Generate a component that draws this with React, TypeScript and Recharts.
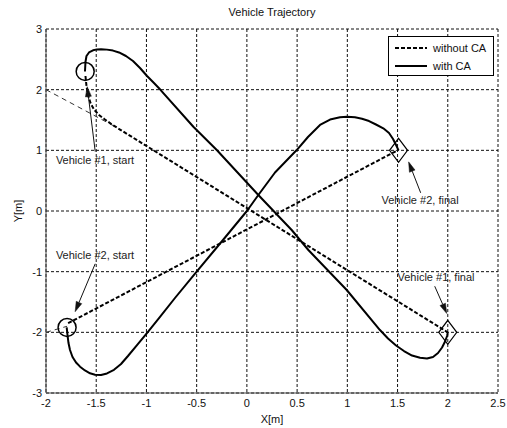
import React from 'react';
import {
  ComposedChart, Line, XAxis, YAxis, CartesianGrid, ReferenceDot, ReferenceLine, Legend, Label,
} from 'recharts';

// ---- Data ----
const xTicks = [-2, -1.5, -1, -0.5, 0, 0.5, 1, 1.5, 2, 2.5];
const yTicks = [-3, -2, -1, 0, 1, 2, 3];

// Vehicle #1 with collision avoidance (solid)
const v1WithCA = [
  [-1.612, 2.299], [-1.607, 2.456], [-1.597, 2.555], [-1.572, 2.613], [-1.532, 2.649],
  [-1.492, 2.664], [-1.452, 2.667], [-1.393, 2.660], [-1.333, 2.644], [-1.273, 2.613],
  [-1.204, 2.555], [-1.134, 2.472], [-1.064, 2.357], [-0.994, 2.225], [-0.925, 2.110],
  [-0.865, 2.006], [-0.533, 1.389], [-0.300, 1.005], [0.114, 0.264], [0.446, -0.313],
  [0.612, -0.643], [0.994, -1.302], [1.325, -1.962], [1.405, -2.102], [1.485, -2.217],
  [1.564, -2.308], [1.644, -2.382], [1.724, -2.420], [1.793, -2.431], [1.853, -2.406],
  [1.903, -2.341], [1.943, -2.250], [1.973, -2.151], [1.993, -2.060], [2.0, -2.0],
].map(([x, y]) => ({ x, y }));

// Vehicle #2 with collision avoidance (solid)
const v2WithCA = [
  [-1.794, -1.917], [-1.786, -2.044], [-1.776, -2.176], [-1.761, -2.291], [-1.736, -2.406],
  [-1.701, -2.497], [-1.661, -2.566], [-1.612, -2.629], [-1.562, -2.675], [-1.512, -2.698],
  [-1.452, -2.703], [-1.393, -2.678], [-1.323, -2.617], [-1.253, -2.522], [-1.184, -2.390],
  [-1.094, -2.209], [-0.997, -2.016], [-0.865, -1.747], [-0.716, -1.434], [-0.500, -1.000],
  [-0.238, -0.478], [0.0, 0.0], [0.114, 0.264], [0.280, 0.635], [0.496, 1.005],
  [0.608, 1.220], [0.728, 1.418], [0.828, 1.508], [0.927, 1.544], [0.997, 1.553],
  [1.076, 1.544], [1.146, 1.520], [1.216, 1.483], [1.285, 1.426], [1.358, 1.363],
  [1.415, 1.286], [1.455, 1.187], [1.485, 1.088], [1.51, 1.0],
].map(([x, y]) => ({ x, y }));

// Vehicle #1 without collision avoidance (dashed)
const v1WithoutCA = [
  [-1.607, 2.225], [-1.597, 2.060], [-1.582, 1.912], [-1.557, 1.780], [-1.522, 1.673],
  [-1.472, 1.582], [-1.413, 1.508], [-1.343, 1.426], [-1.263, 1.342], [2.0, -2.0],
].map(([x, y]) => ({ x, y }));

// Vehicle #2 without collision avoidance (dashed)
const v2WithoutCA = [
  [-1.78, -1.85], [1.5, 1.0],
].map(([x, y]) => ({ x, y }));

// thin lead-in lines
const v1Lead = [[-2.0, 2.0], [-1.3, 1.38]].map(([x, y]) => ({ x, y }));
const v2Lead = [[-2.0, -2.0], [-1.79, -1.9]].map(([x, y]) => ({ x, y }));

const starts = [
  { x: -1.61, y: 2.30 },
  { x: -1.79, y: -1.92 },
];
const finals = [
  { x: 1.51, y: 1.0 },
  { x: 2.0, y: -2.0 },
];

const annotations = [
  { text: 'Vehicle #1, start', x: -1.512, y: 0.84, from: { x: -1.51, y: 0.98 }, to: { x: -1.59, y: 2.05 } },
  { text: 'Vehicle #2, start', x: -1.512, y: -0.72, from: { x: -1.51, y: -0.87 }, to: { x: -1.71, y: -1.66 } },
  { text: 'Vehicle #2, final', x: 1.724, y: 0.18, from: { x: 1.73, y: 0.30 }, to: { x: 1.61, y: 0.81 } },
  { text: 'Vehicle #1, final', x: 1.883, y: -1.09, from: { x: 1.87, y: -1.24 }, to: { x: 1.99, y: -1.69 } },
];

const FONT = 'Arial, "Liberation Sans", Helvetica, sans-serif';

const arrowShape = (props: any) => {
  const { x1, y1, x2, y2 } = props;
  const ang = Math.atan2(y2 - y1, x2 - x1);
  const len = 10;
  const w = 3;
  const bx = x2 - len * Math.cos(ang);
  const by = y2 - len * Math.sin(ang);
  const p1x = bx + w * Math.sin(ang);
  const p1y = by - w * Math.cos(ang);
  const p2x = bx - w * Math.sin(ang);
  const p2y = by + w * Math.cos(ang);
  return (
    <g>
      <line x1={x1} y1={y1} x2={bx} y2={by} stroke="#111" strokeWidth={1} />
      <polygon points={`${x2},${y2} ${p1x},${p1y} ${p2x},${p2y}`} fill="#111" stroke="#111" strokeWidth={0.5} />
    </g>
  );
};

const diamondShape = (props: any) => {
  const { cx, cy } = props;
  const hw = 9;
  const hh = 12;
  return (
    <polygon
      points={`${cx},${cy - hh} ${cx + hw},${cy} ${cx},${cy + hh} ${cx - hw},${cy}`}
      fill="none"
      stroke="#000"
      strokeWidth={1.2}
    />
  );
};

const LegendBox = () => (
  <div
    style={{
      width: 106,
      height: 40,
      border: '1px solid #000',
      background: '#fff',
      boxSizing: 'border-box',
      fontFamily: FONT,
      fontSize: 11,
      color: '#111',
    }}
  >
    <svg width={104} height={38} style={{ display: 'block' }}>
      <line x1={6} y1={11} x2={38} y2={11} stroke="#000" strokeWidth={2} strokeDasharray="4 2" />
      <text x={44} y={15} fontFamily={FONT} fontSize={11} fill="#111">without CA</text>
      <line x1={6} y1={29} x2={38} y2={29} stroke="#000" strokeWidth={2} />
      <text x={44} y={33} fontFamily={FONT} fontSize={11} fill="#111">with CA</text>
    </svg>
  </div>
);

export default function App() {
  return (
    <div style={{ position: 'absolute', left: 0, top: 0, width: 507, height: 428, background: '#fff' }}>
      <ComposedChart width={507} height={428} margin={{ top: 29, right: 9, bottom: 15, left: 0 }}>
        <CartesianGrid stroke="#111" strokeDasharray="3 2" strokeWidth={1} />
        <XAxis
          type="number"
          dataKey="x"
          domain={[-2, 2.5]}
          ticks={xTicks}
          allowDataOverflow
          height={20}
          tickSize={0}
          tickMargin={6}
          axisLine={{ stroke: '#444', strokeWidth: 1 }}
          tick={{ fontFamily: FONT, fontSize: 11, fill: '#111' }}
        >
          <Label
            content={({ viewBox }: any) => (
              <text
                x={viewBox.x + viewBox.width / 2}
                y={viewBox.y + 30}
                textAnchor="middle"
                fontFamily={FONT}
                fontSize={11}
                fill="#111"
              >
                X[m]
              </text>
            )}
          />
        </XAxis>
        <YAxis
          type="number"
          domain={[-3, 3]}
          ticks={yTicks}
          allowDataOverflow
          width={46}
          tickSize={0}
          tickMargin={4}
          axisLine={{ stroke: '#444', strokeWidth: 1 }}
          tick={{ fontFamily: FONT, fontSize: 11, fill: '#111' }}
        >
          <Label
            content={({ viewBox }: any) => {
              const cx = viewBox.x + 22;
              const cy = viewBox.y + viewBox.height / 2;
              return (
                <text
                  x={cx}
                  y={cy}
                  transform={`rotate(-90 ${cx} ${cy})`}
                  textAnchor="middle"
                  fontFamily={FONT}
                  fontSize={11}
                  fill="#111"
                >
                  Y[m]
                </text>
              );
            }}
          />
        </YAxis>

        <Line data={v1Lead} dataKey="y" type="linear" stroke="#333" strokeWidth={1} strokeDasharray="5 4" dot={false} isAnimationActive={false} legendType="none" />
        <Line data={v2Lead} dataKey="y" type="linear" stroke="#333" strokeWidth={1} strokeDasharray="5 4" dot={false} isAnimationActive={false} legendType="none" />
        <Line data={v1WithoutCA} dataKey="y" type="linear" stroke="#000" strokeWidth={2} strokeDasharray="4 2" dot={false} isAnimationActive={false} />
        <Line data={v2WithoutCA} dataKey="y" type="linear" stroke="#000" strokeWidth={2} strokeDasharray="4 2" dot={false} isAnimationActive={false} />
        <Line data={v1WithCA} dataKey="y" type="linear" stroke="#000" strokeWidth={2} dot={false} isAnimationActive={false} strokeLinejoin="round" />
        <Line data={v2WithCA} dataKey="y" type="linear" stroke="#000" strokeWidth={2} dot={false} isAnimationActive={false} strokeLinejoin="round" />

        {starts.map((s, i) => (
          <ReferenceDot key={`s${i}`} x={s.x} y={s.y} r={9} fill="none" stroke="#000" strokeWidth={1.5} />
        ))}
        {finals.map((f, i) => (
          <ReferenceDot key={`f${i}`} x={f.x} y={f.y} r={9} shape={diamondShape} />
        ))}
        {annotations.map((a, i) => (
          <ReferenceLine key={`a${i}`} segment={[a.from, a.to]} shape={arrowShape} />
        ))}
        {annotations.map((a, i) => (
          <ReferenceDot
            key={`t${i}`}
            x={a.x}
            y={a.y}
            r={0}
            fill="none"
            stroke="none"
            label={{ value: a.text, position: 'center', fontFamily: FONT, fontSize: 11, fill: '#222' }}
          />
        ))}

        <Legend
          layout="vertical"
          align="center"
          verticalAlign="middle"
          content={() => <LegendBox />}
          wrapperStyle={{ position: 'absolute', left: 388, top: 36, width: 106, height: 40 }}
        />
      </ComposedChart>
      <div
        style={{
          position: 'absolute',
          left: 46,
          width: 452,
          top: 6,
          textAlign: 'center',
          fontFamily: FONT,
          fontSize: 11,
          color: '#111',
        }}
      >
        Vehicle Trajectory
      </div>
    </div>
  );
}
